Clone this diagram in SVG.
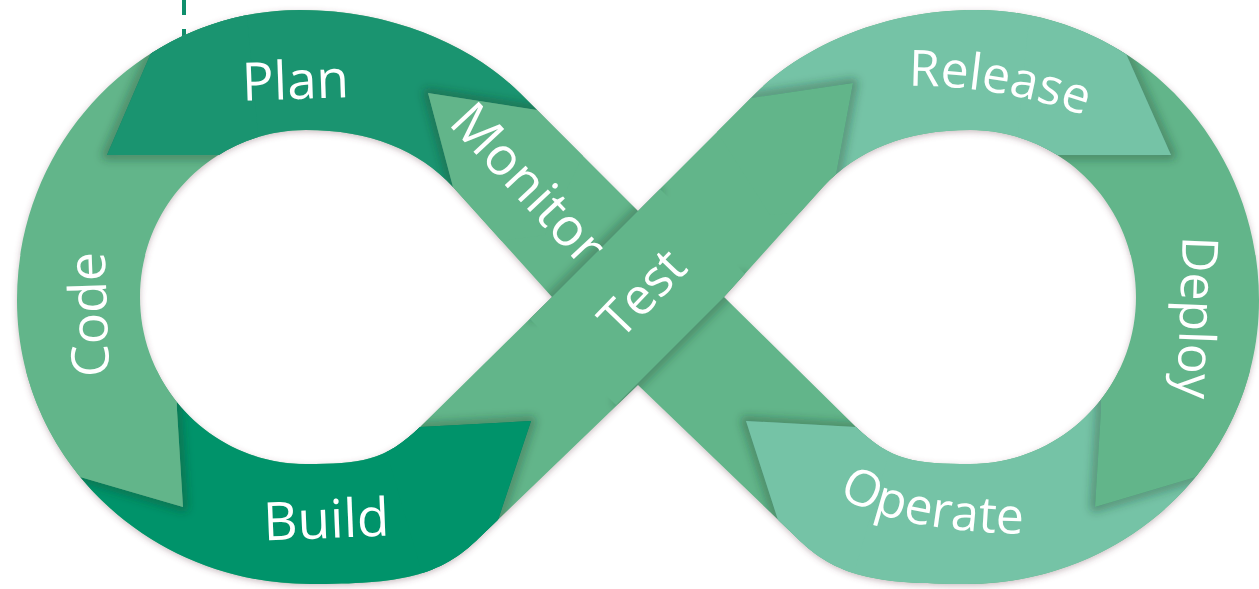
<svg xmlns="http://www.w3.org/2000/svg" width="1259" height="589" viewBox="0 0 1259 589">
  <style>
    .lbl { font-family: "Open Sans", "Liberation Sans", sans-serif; fill: #ffffff; }
    .dark1 { fill: #1a9470; }
    .dark2 { fill: #00936a; }
    .mid { fill: #62b58a; }
    .light { fill: #75c3a6; }
    .sh { fill: none; stroke: #1e3a2c; stroke-opacity: 0.35; stroke-width: 10; stroke-linejoin: round; }
  </style>
  <defs>
    <clipPath id="bandClip">
      <path clip-rule="evenodd" d="M 638,211 L 520,93 C 478,51 400,10 300,10 C 144,10 17,140 17,300 C 17,460 150,584 310,584 C 400,584 440,577 480,537 L 638,385 L 796,537 C 836,577 876,584 966,584 C 1126,584 1259,460 1259,300 C 1259,140 1132,10 976,10 C 876,10 798,51 756,93 Z M 552,297 L 453,187 C 419,150 370,130 306,130 C 214,130 140,205 140,297 C 140,389 214,464 306,464 C 360,464 385,461 420,427 Z M 724,297 L 823,187 C 857,150 906,130 970,130 C 1062,130 1136,205 1136,297 C 1136,389 1062,464 970,464 C 916,464 891,461 856,427 Z"/>
    </clipPath>
    <filter id="outerShadow" x="-5%" y="-10%" width="110%" height="120%">
      <feDropShadow dx="0" dy="2" stdDeviation="3" flood-color="#6b4050" flood-opacity="0.35"/>
    </filter>
    <filter id="blur" filterUnits="userSpaceOnUse" x="-50" y="-50" width="1400" height="700">
      <feGaussianBlur stdDeviation="4"/>
    </filter>
    <path id="relPath" d="M 890,86 Q 1000,82 1102,122"/>
    <path id="opPath" d="M 838,495 Q 900,536 1062,534"/>
  </defs>

  <line id="dash" x1="184" y1="0" x2="184" y2="44" stroke="#0f8f6c" stroke-width="4" stroke-dasharray="15 14"/>

  <g id="band">
    <path class="mid" filter="url(#outerShadow)" fill-rule="evenodd" d="M 638,211 L 520,93 C 478,51 400,10 300,10 C 144,10 17,140 17,300 C 17,460 150,584 310,584 C 400,584 440,577 480,537 L 638,385 L 796,537 C 836,577 876,584 966,584 C 1126,584 1259,460 1259,300 C 1259,140 1132,10 976,10 C 876,10 798,51 756,93 Z M 552,297 L 453,187 C 419,150 370,130 306,130 C 214,130 140,205 140,297 C 140,389 214,464 306,464 C 360,464 385,461 420,427 Z M 724,297 L 823,187 C 857,150 906,130 970,130 C 1062,130 1136,205 1136,297 C 1136,389 1062,464 970,464 C 916,464 891,461 856,427 Z"/>
  </g>

  <g clip-path="url(#bandClip)">
    <g id="plan"><polygon class="dark1" points="176,-5 600,-5 600,120 537,110 428,93 453,187 465,232 260,155 107,155"/></g>
    <g id="build"><polygon class="dark2" points="-10,455 40,465 80,477 183,507 177,410 176,380 380,430 420,427 531,421 498,520 485,560 485,600 -10,600"/></g>
    <g id="release"><polygon class="light" points="676,-5 1100,-5 1171,155 1016,155 830,210 835,180 853,83 751,98 700,105"/></g>
    <g id="operate"><polygon class="light" points="1286,455 1236,465 1196,477 1095,507 1101,410 1101,370 896,430 856,427 746,421 778,520 791,560 791,600 1286,600"/></g>

    <g id="shadows" filter="url(#blur)">
      <polyline class="sh" points="600,120 537,110 428,93 453,187 465,232"/>
      <polyline class="sh" points="176,-5 107,155 260,155"/>
      <polyline class="sh" points="40,465 183,507 177,410 176,380"/>
      <polyline class="sh" points="380,430 531,421 498,520 485,560"/>
      <polyline class="sh" points="700,105 853,83 835,180 830,210"/>
      <polyline class="sh" points="1100,-5 1171,155 1016,155"/>
      <polyline class="sh" points="1236,465 1095,507 1101,410 1101,370"/>
      <polyline class="sh" points="896,430 746,421 778,520 791,560"/>
      <polyline class="sh" points="530,319 660,189"/>
      <polyline class="sh" points="616,405 746,275"/>
    </g>

    <g id="tips">
      <polygon id="monitor-tip" class="mid" points="600,120 537,110 428,93 453,187 470,245 545,235"/>
      <polygon id="plan-tip" class="dark1" points="176,-5 107,155 260,155 245,-5"/>
      <polygon id="code-tip" class="mid" points="0,452 40,465 80,477 183,507 177,410 176,370 0,370"/>
      <polygon id="build-tip" class="dark2" points="380,430 420,427 531,421 498,520 485,600 430,600"/>
      <polygon id="test-tip" class="mid" points="700,105 751,98 853,83 835,180 830,210 770,215"/>
      <polygon id="release-tip" class="light" points="1100,-5 1171,155 1016,155 1031,-5"/>
      <polygon id="deploy-tip" class="mid" points="1286,452 1236,465 1196,477 1095,507 1101,410 1101,370 1286,370"/>
      <polygon id="operate-tip" class="light" points="896,430 856,427 746,421 778,520 791,600 846,600"/>
    </g>
    <g id="test"><polygon class="mid" points="530,319 660,189 746,275 616,405"/></g>
  </g>

  <g id="labels">
    <g id="label-plan"><text class="lbl" x="296" y="99" font-size="53" text-anchor="middle" transform="rotate(-2 296 99)">Plan</text></g>
    <g id="label-code"><text class="lbl" font-size="52" text-anchor="middle" transform="translate(107,314) rotate(-92)">Code</text></g>
    <g id="label-build"><text class="lbl" x="327" y="538" font-size="53" text-anchor="middle" transform="rotate(-2.3 327 538)">Build</text></g>
    <g id="label-test"><text class="lbl" font-size="51" text-anchor="middle" transform="translate(655,305) rotate(-46)">Test</text></g>
    <g id="label-release"><text class="lbl" font-size="50"><textPath href="#relPath" startOffset="50%" text-anchor="middle">Release</textPath></text></g>
    <g id="label-deploy"><text class="lbl" font-size="50" text-anchor="middle" transform="translate(1180,317) rotate(92)">Deploy</text></g>
    <g id="label-operate"><text class="lbl" font-size="50"><textPath href="#opPath">Operate</textPath></text></g>
    <g id="label-monitor"><text class="lbl" font-size="53" text-anchor="middle" transform="translate(515,196) rotate(47)">Monitor</text></g>
  </g>
</svg>
